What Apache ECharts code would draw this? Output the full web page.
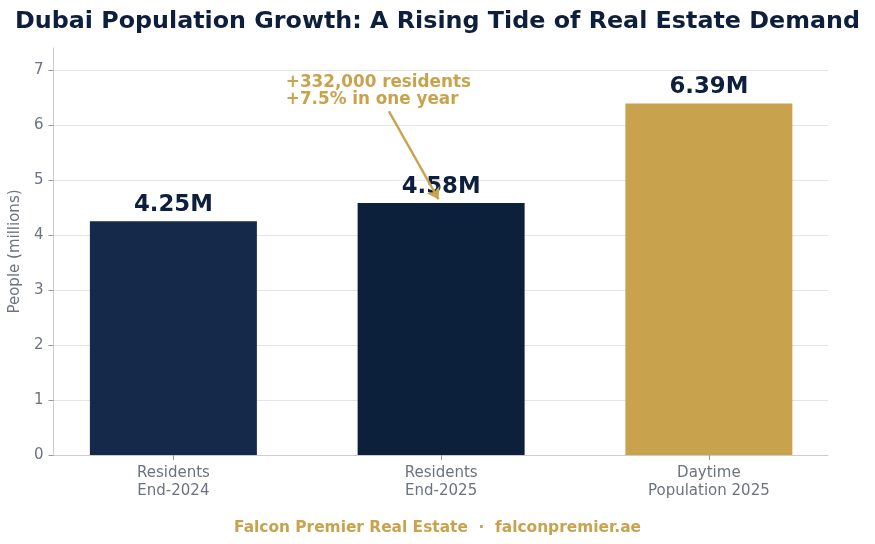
<!DOCTYPE html>
<html>
<head>
<meta charset="utf-8">
<script src="https://cdn.jsdelivr.net/npm/echarts@6/dist/echarts.min.js"></script>
<style>
  html, body { margin: 0; padding: 0; background: #fff; }
  #main { width: 875px; height: 544px; }
</style>
</head>
<body>
<div id="main"></div>
<script>
var categories = ['Residents\nEnd-2024', 'Residents\nEnd-2025', 'Daytime\nPopulation 2025'];
var values = [4.25, 4.58, 6.39];
var valueLabels = ['4.25M', '4.58M', '6.39M'];
var barColors = ['#15294b', '#0c1f3b', '#c9a24d'];
var yTicks = [0, 1, 2, 3, 4, 5, 6, 7];

// annotation (data coords)
var annoText = '+332,000 residents\n+7.5% in one year';
var annoAt = [0.42, 6.93];
var arrowFrom = [0.805, 6.25];
var arrowTo = [0.99, 4.65];

var FONT = 'DejaVu Sans';
var navy = '#0d1f3c';
var gold = '#c9a24d';
var gray = '#6b7280';

var myChart = echarts.init(document.getElementById('main'));

var barData = values.map(function (v, i) {
    return {
        value: [i, v],
        itemStyle: { color: barColors[i] },
        label: { formatter: valueLabels[i] }
    };
});

option = {
    animation: false,
    textStyle: { fontFamily: FONT },
    title: {
        text: 'Dubai Population Growth: A Rising Tide of Real Estate Demand',
        left: 'center',
        top: 5,
        textStyle: { color: navy, fontSize: 23.8, fontWeight: 'bold', fontFamily: FONT }
    },
    graphic: [{
        type: 'text',
        left: 'center',
        top: 520,
        style: {
            text: 'Falcon Premier Real Estate  \u00b7  falconpremier.ae',
            fill: gold,
            font: 'bold 15.4px "DejaVu Sans"'
        }
    }],
    grid: { left: 53, right: 47, top: 48, bottom: 89 },
    xAxis: {
        type: 'value',
        min: -0.448,
        max: 2.445,
        axisLine: { show: true, onZero: false, lineStyle: { color: '#cccccc', width: 1 } },
        axisTick: { show: true, customValues: [0, 1, 2], length: 5, lineStyle: { color: '#999999' } },
        axisLabel: {
            customValues: [0, 1, 2],
            formatter: function (v) { return categories[Math.round(v)]; },
            color: gray,
            fontFamily: FONT,
            fontSize: 15,
            lineHeight: 18,
            margin: 9
        },
        splitLine: { show: false }
    },
    yAxis: {
        type: 'value',
        min: 0,
        max: 7.4,
        interval: 1,
        name: 'People (millions)',
        nameLocation: 'middle',
        nameGap: 26,
        nameTextStyle: { color: gray, fontSize: 15, fontFamily: FONT },
        axisLine: { show: true, onZero: false, lineStyle: { color: '#cccccc', width: 1 } },
        axisTick: { show: true, customValues: yTicks, length: 5, lineStyle: { color: '#999999' } },
        axisLabel: { customValues: yTicks, color: gray, fontSize: 15, fontFamily: FONT, margin: 10 },
        splitLine: {
            show: true,
            lineStyle: {
                color: ['#e5e5e5', '#e5e5e5', '#e5e5e5', '#e5e5e5', '#e5e5e5', '#e5e5e5', '#e5e5e5', '#e5e5e5', 'rgba(0,0,0,0)'],
                width: 1
            }
        }
    },
    series: [
        {
            type: 'bar',
            barWidth: 167,
            data: barData,
            label: {
                show: true,
                position: 'top',
                distance: 5,
                color: navy,
                fontFamily: FONT,
                fontSize: 22.8,
                fontWeight: 'bold'
            },
            markLine: {
                silent: true,
                symbol: ['none', 'arrow'],
                symbolSize: 11,
                label: { show: false },
                lineStyle: { color: gold, width: 2.5, type: 'solid' },
                data: [[{ coord: arrowFrom }, { coord: arrowTo }]]
            },
            z: 2
        },
        {
            type: 'scatter',
            symbolSize: 0,
            itemStyle: { opacity: 1 },
            data: [annoAt],
            label: {
                show: true,
                position: 'inside',
                align: 'left',
                verticalAlign: 'top',
                formatter: annoText,
                color: gold,
                fontFamily: FONT,
                fontSize: 16.8,
                fontWeight: 'bold',
                lineHeight: 17
            },
            z: 5
        }
    ]
};
myChart.setOption(option);
</script>
</body>
</html>
